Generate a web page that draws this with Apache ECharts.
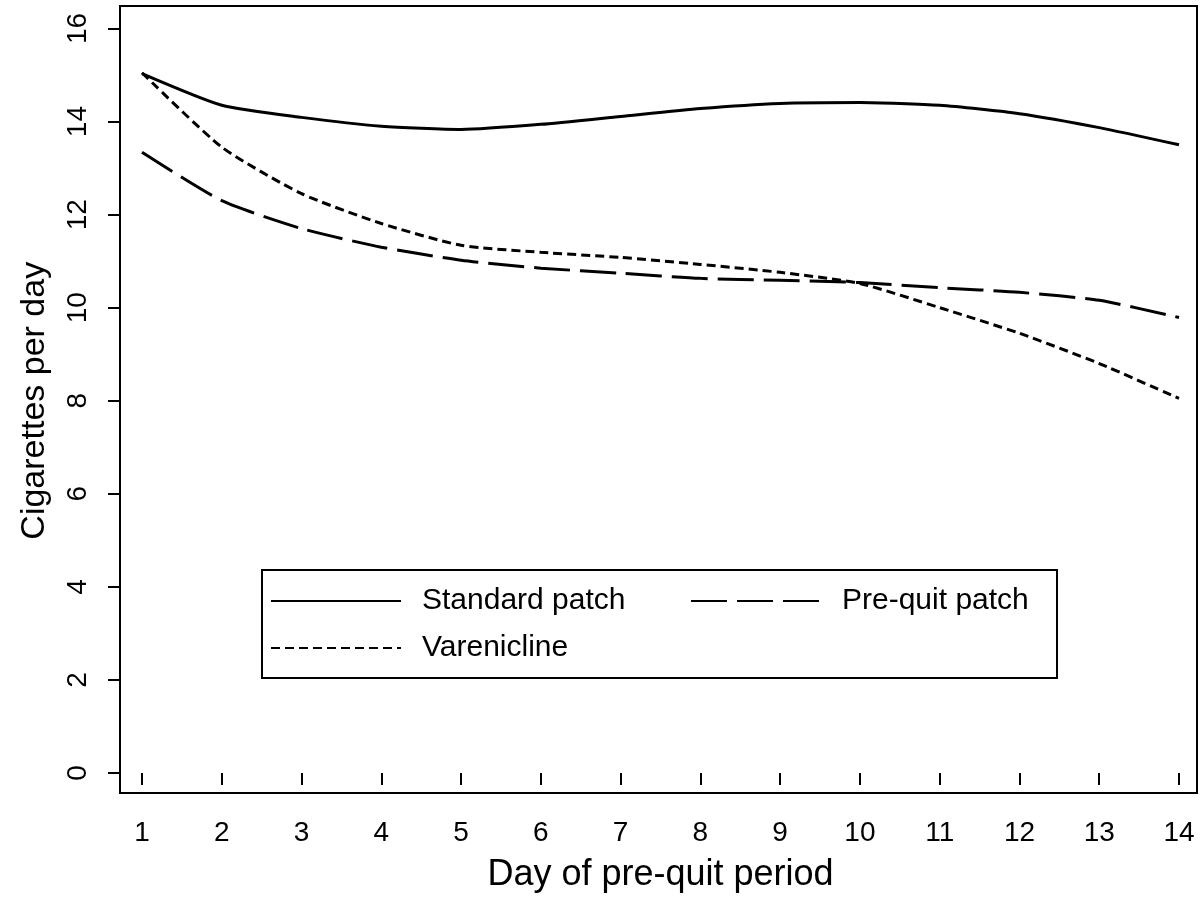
<!DOCTYPE html>
<html>
<head>
<meta charset="utf-8">
<script src="https://cdn.jsdelivr.net/npm/echarts@6/dist/echarts.min.js"></script>
<style>
  html, body { margin: 0; padding: 0; background: #fff; }
  #main { width: 1202px; height: 901px; }
</style>
</head>
<body>
<div id="main"></div>
<script>
// days of the pre-quit period
const days = [1, 2, 3, 4, 5, 6, 7, 8, 9, 10, 11, 12, 13, 14]
const yTicks = [0, 2, 4, 6, 8, 10, 12, 14, 16]

// cigarettes per day
const standardPatch = [15.03, 14.35, 14.09, 13.9, 13.83, 13.94, 14.11, 14.28, 14.39, 14.41, 14.35, 14.17, 13.87, 13.5]
const preQuitPatch = [13.34, 12.3, 11.7, 11.3, 11.02, 10.85, 10.74, 10.63, 10.59, 10.54, 10.43, 10.33, 10.16, 9.79]
const varenicline = [15.05, 13.45, 12.45, 11.81, 11.34, 11.19, 11.08, 10.93, 10.76, 10.52, 10.0, 9.45, 8.8, 8.05]

const font = 'Liberation Sans'

const pairs = (vals) => days.map((d, i) => [d, vals[i]])

const lineSeries = (name, vals, type) => ({
  name: name,
  type: 'line',
  data: pairs(vals),
  symbol: 'none',
  smooth: 0.2,
  lineStyle: { color: '#000', width: 3, type: type },
  itemStyle: { color: '#000' }
})

const legendItem = (name, left, top) => ({
  data: [name],
  left: left,
  top: top,
  padding: 0,
  itemWidth: 130,
  itemHeight: 14,
  selectedMode: false,
  itemStyle: { opacity: 0 },
  textStyle: { fontFamily: font, fontSize: 30, color: '#000', padding: [0, 0, 0, 16] }
})

const chart = echarts.init(document.getElementById('main'))
const option = {
  backgroundColor: '#fff',
  animation: false,
  grid: { left: 142, right: 23, top: 28.5, bottom: 128 },
  xAxis: {
    type: 'value',
    min: 1,
    max: 14,
    interval: 1,
    offset: 20,
    splitLine: { show: false },
    axisLine: { show: false },
    axisTick: { show: true, length: 12, lineStyle: { color: '#000', width: 2 } },
    axisLabel: { color: '#000', fontFamily: font, fontSize: 28, margin: 26 },
    name: 'Day of pre-quit period',
    nameLocation: 'middle',
    nameGap: 64,
    nameTextStyle: { color: '#000', fontFamily: font, fontSize: 36 }
  },
  yAxis: {
    type: 'value',
    min: yTicks[0],
    max: yTicks[yTicks.length - 1],
    interval: 2,
    offset: 22,
    splitLine: { show: false },
    axisLine: { show: false },
    axisTick: { show: true, length: 12, lineStyle: { color: '#000', width: 2 } },
    axisLabel: { color: '#000', fontFamily: font, fontSize: 28, rotate: 90, margin: 28 },
    name: 'Cigarettes per day',
    nameLocation: 'middle',
    nameGap: 68,
    nameTextStyle: { color: '#000', fontFamily: font, fontSize: 34 }
  },
  legend: [
    legendItem('Standard patch', 270, 586),
    legendItem('Pre-quit patch', 690, 586),
    legendItem('Varenicline', 270, 633)
  ],
  graphic: [
    {
      type: 'rect',
      shape: { x: 120, y: 6, width: 1077, height: 787 },
      style: { fill: null, stroke: '#000', lineWidth: 2 },
      z: 10
    },
    {
      type: 'rect',
      shape: { x: 262, y: 570, width: 795, height: 108 },
      style: { fill: '#fff', stroke: '#000', lineWidth: 2 },
      z: 1
    }
  ],
  series: [
    lineSeries('Standard patch', standardPatch, 'solid'),
    lineSeries('Pre-quit patch', preQuitPatch, [36, 10]),
    lineSeries('Varenicline', varenicline, [9, 5])
  ]
}
chart.setOption(option)
</script>
</body>
</html>
